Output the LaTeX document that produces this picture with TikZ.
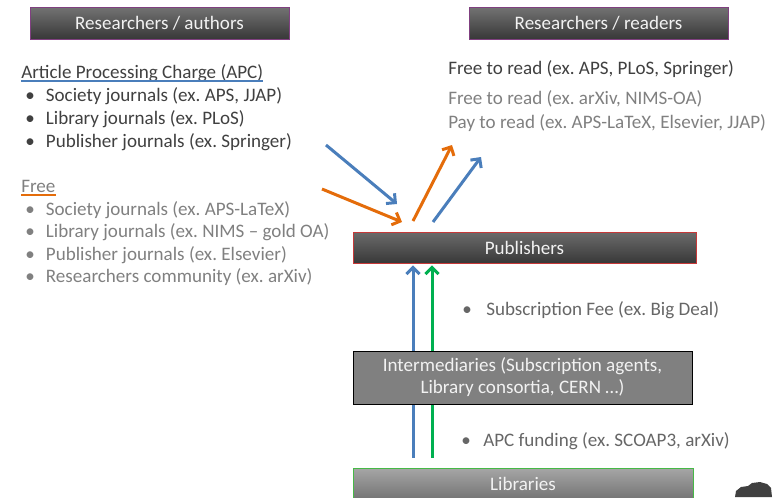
\documentclass[tikz,border=0pt]{standalone}
\usepackage{fontspec}
\setmainfont{Carlito}
\usepackage{tikz}
\usetikzlibrary{positioning}
\usetikzlibrary{arrows.meta,calc}

\definecolor{darktxt}{HTML}{404040}
\definecolor{greytxt}{HTML}{808080}
\definecolor{midtxt}{HTML}{666666}
\definecolor{arrblue}{HTML}{4A7EBB}
\definecolor{arrorange}{HTML}{E46C0A}
\definecolor{arrgreen}{HTML}{00B050}
\newcommand{\bul}[2][15.5pt]{\makebox[#1][l]{\textbullet}#2}

\begin{document}
\begin{tikzpicture}[x=0.75pt, y=-0.75pt, font=\fontsize{14.3}{16.5}\selectfont,
    headbox/.style={draw=violet!50!gray, top color=black!55, bottom color=black!78,
      text=white!95!black, minimum width=194pt, minimum height=24pt, inner sep=0pt},
    txt/.style={anchor=base west, inner sep=0pt},
    flow/.style={line width=2.25pt, -{Straight Barb[length=5pt, width=10pt]}}]
    \useasboundingbox (0,0) rectangle (780,497);
    \clip (0,0) rectangle (780,497);

    % Nodes
    \node [headbox] (authors) at (159.5,23) {Researchers / authors};
    \node [headbox] (readers) at (598.5,23) {Researchers / readers};

    \node [txt, text=darktxt] (apc) at (21,78) {Article Processing Charge (APC)};
    \node [txt, text=darktxt] (apc1) at (25,101) {\bul{Society journals (ex.\ APS, JJAP)}};
    \node [txt, text=darktxt] (apc2) at (25,124) {\bul{Library journals (ex.\ PLoS)}};
    \node [txt, text=darktxt] (apc3) at (25,147) {\bul{Publisher journals (ex.\ Springer)}};

    \node [txt, text=greytxt] (free) at (21,192) {Free};
    \node [txt, text=greytxt] (free1) at (25,215) {\bul{Society journals (ex.\ APS-LaTeX)}};
    \node [txt, text=greytxt] (free2) at (25,237) {\bul{Library journals (ex.\ NIMS -- gold OA)}};
    \node [txt, text=greytxt] (free3) at (25,260) {\bul{Publisher journals (ex.\ Elsevier)}};
    \node [txt, text=greytxt] (free4) at (25,282) {\bul{Researchers community (ex.\ arXiv)}};

    \node [txt, text=darktxt] (read1) at (448,74) {Free to read (ex.\ APS, PLoS, Springer)};
    \node [txt, text=greytxt] (read2) at (448,104) {Free to read (ex.\ arXiv, NIMS-OA)};
    \node [txt, text=greytxt] (read3) at (448,128) {Pay to read (ex.\ APS-LaTeX, Elsevier, JJAP)};

    \node [txt, text=midtxt] (subfee) at (462,315) {\bul[18pt]{Subscription Fee (ex.\ Big Deal)}};
    \node [txt, text=midtxt] (apcfund) at (461,446) {\bul[16.5pt]{APC funding (ex.\ SCOAP3, arXiv)}};

    \node [draw=red!55!gray, top color=black!58, bottom color=black!78, text=white!95!black,
      minimum width=257pt, minimum height=23.25pt, inner sep=0pt] (pub) at (524.5,247.5) {Publishers};
    \node [draw=green!45!gray, top color=black!35, bottom color=black!55, text=white!95!black,
      minimum width=255pt, minimum height=24pt, inner sep=0pt] (lib) at (523,484) {Libraries};

    % Underlines
    \draw [arrblue, line width=0.8pt] ($(apc.base west)+(0,3)$) -- ($(apc.base east)+(0,3)$);
    \draw [arrorange, line width=0.8pt] ($(free.base west)+(0,3)$) -- ($(free.base east)+(0,3)$);

    % Arrows
    \coordinate (apcin) at (326,145);
    \coordinate (apcend) at (397,204);
    \coordinate (freein) at (322,189);
    \coordinate (freeend) at (402,222);
    \coordinate (orout) at (413,221);
    \coordinate (orend) at (452,145);
    \coordinate (blout) at (433,222);
    \coordinate (blend) at (481,157);
    \coordinate (bluex) at (413,0);
    \coordinate (greenx) at (432,0);

    \draw [flow, arrblue] (apcin) -- (apcend);
    \draw [flow, arrorange] (freein) -- (freeend);
    \draw [flow, arrorange] (orout) -- (orend);
    \draw [flow, arrblue] (blout) -- (blend);
    \draw [flow, arrblue, shorten <=7.5pt, shorten >=1.5pt] (lib.north -| bluex) -- (pub.south -| bluex);
    \draw [flow, arrgreen, shorten <=7.5pt, shorten >=1.5pt] (lib.north -| greenx) -- (pub.south -| greenx);

    % Box on top of the arrows
    \node [draw=black, fill=black!50, text=white!95!black, align=center,
      minimum width=254pt, minimum height=39.75pt, inner sep=0pt] (inter) at (522.5,377.5)
      {Intermediaries (Subscription agents,\\ Library consortia, CERN \dots)};

    % corner blob
    \fill [black!75] (735,497) -- (736,491) -- (741,487) -- (748,486) -- (752,483)
      -- (760,482) -- (767,484) -- (771,488) -- (772,497) -- cycle;
\end{tikzpicture}
\end{document}
